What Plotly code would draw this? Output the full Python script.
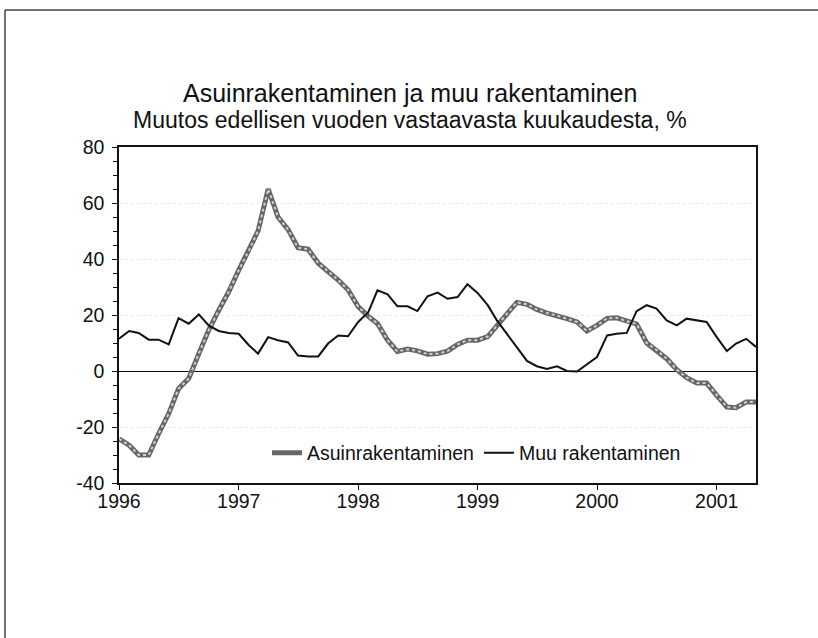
import pandas as pd
import plotly.graph_objects as go

months = pd.date_range("1996-01-01", "2001-05-01", freq="MS")

asuin = [-24.2, -26.5, -30, -30, -22.4, -15.2, -6.3, -2.7, 6.2, 14.5, 21.7, 28.2,
         36, 43, 50, 65, 55, 50.5, 44, 43.5, 38.5, 35.5, 32.5, 29,
         23, 19.5, 17, 11, 7, 7.8, 7.2, 6, 6.2, 7.1, 9.5, 11,
         11, 12.3, 16, 20.5, 24.5, 23.8, 22, 20.7, 19.8, 18.7, 17.5, 14.3,
         16.3, 18.8, 19, 17.8, 16.8, 10, 7.5, 4.4, 0.5, -2.4, -4.3, -4.3,
         -8.7, -12.9, -13.1, -11.1, -11.1]

muu = [11.5, 14.3, 13.6, 11.2, 11.2, 9.5, 18.9, 16.9, 20.2, 16.3, 14.3, 13.6,
       13.3, 9.2, 6.2, 12.1, 11, 10.2, 5.5, 5.2, 5.2, 9.8, 12.7, 12.4,
       17.5, 21, 28.8, 27.4, 23.1, 23.1, 21.4, 26.7, 28, 25.8, 26.4, 31,
       27.9, 23.5, 18.1, 13.3, 8.3, 3.6, 1.7, 0.7, 1.7, 0, -0.2, 2.4,
       5, 12.7, 13.3, 13.6, 21.4, 23.5, 22.3, 18.1, 16.3, 18.7, 18.1, 17.5,
       12.1, 7.1, 9.8, 11.5, 8.6]

title = "Asuinrakentaminen ja muu rakentaminen"
subtitle = "Muutos edellisen vuoden vastaavasta kuukaudesta, %"
names = ["Asuinrakentaminen", "Muu rakentaminen"]
year_ticks = ["1996", "1997", "1998", "1999", "2000", "2001"]
y_ticks = [-40, -20, 0, 20, 40, 60, 80]
y_labels = ["-40", "-20", "0", "20", "40", "60", "80"]

FONT = "Liberation Sans, Arial, sans-serif"

fig = go.Figure()
fig.add_trace(go.Scatter(x=months, y=asuin, mode="lines", name=names[0],
                         line=dict(color="#666666", width=5)))
fig.add_trace(go.Scatter(x=months, y=asuin, mode="lines", showlegend=False,
                         hoverinfo="skip",
                         line=dict(color="#cfcfcf", width=2, dash="dot")))
fig.add_trace(go.Scatter(x=months, y=muu, mode="lines", name=names[1],
                         line=dict(color="#111111", width=2)))

W, H = 818, 638
L, R, T, B = 119, 62, 147, 155
pw, ph = W - L - R, H - T - B

def px_x(px):
    return (px - L) / pw

def px_y(py):
    return (H - B - py) / ph

fig.add_annotation(text=title, x=px_x(410), y=px_y(93), xref="paper", yref="paper",
                   showarrow=False, xanchor="center", yanchor="middle",
                   font=dict(family=FONT, size=25, color="#111"))
fig.add_annotation(text=subtitle, x=px_x(410), y=px_y(120), xref="paper", yref="paper",
                   showarrow=False, xanchor="center", yanchor="middle",
                   font=dict(family=FONT, size=23, color="#111"))

# outer frame (top and left edges; right/bottom lie outside the picture)
frame = dict(color="#444", width=1.5)
fig.add_shape(type="line", xref="paper", yref="paper",
              x0=px_x(5), x1=px_x(W + 2), y0=px_y(10), y1=px_y(10), line=frame, layer="below")
fig.add_shape(type="line", xref="paper", yref="paper",
              x0=px_x(5), x1=px_x(5), y0=px_y(10), y1=px_y(H + 2), line=frame, layer="below")

fig.update_layout(
    width=W, height=H,
    margin=dict(l=L, r=R, t=T, b=B),
    paper_bgcolor="white", plot_bgcolor="white",
    font=dict(family=FONT, size=19.5, color="#111"),
    legend=dict(orientation="h", x=px_x(267), y=px_y(453), xanchor="left", yanchor="middle",
                bgcolor="rgba(0,0,0,0)", font=dict(size=19.5), itemwidth=30,
                tracegroupgap=0),
    showlegend=True,
)
fig.update_xaxes(
    range=[months[0], months[-1]],
    tickvals=[pd.Timestamp(y + "-01-01") for y in year_ticks],
    ticktext=year_ticks,
    ticks="outside", ticklen=5, tickcolor="#111",
    showline=True, linecolor="#111", linewidth=1.5, mirror=True,
    showgrid=False, zeroline=False,
    tickfont=dict(size=19.5), ticklabelstandoff=-5,
)
fig.update_yaxes(
    range=[-40, 80], tickvals=y_ticks, ticktext=y_labels,
    ticks="outside", ticklen=5, tickcolor="#111",
    minor=dict(dtick=5, ticks="outside", ticklen=4, tickcolor="#111", showgrid=False),
    showline=True, linecolor="#111", linewidth=1.5, mirror=True,
    showgrid=True, gridcolor="#ececec", griddash="dot", gridwidth=1,
    zeroline=True, zerolinecolor="#111", zerolinewidth=1.2,
    tickfont=dict(size=19.5), ticklabelstandoff=4,
)

fig.write_html("out.html", config={"displayModeBar": False},
               post_script="document.body.style.margin='0';"
                           "document.body.style.overflow='hidden';"
                           "document.documentElement.style.overflow='hidden';")
